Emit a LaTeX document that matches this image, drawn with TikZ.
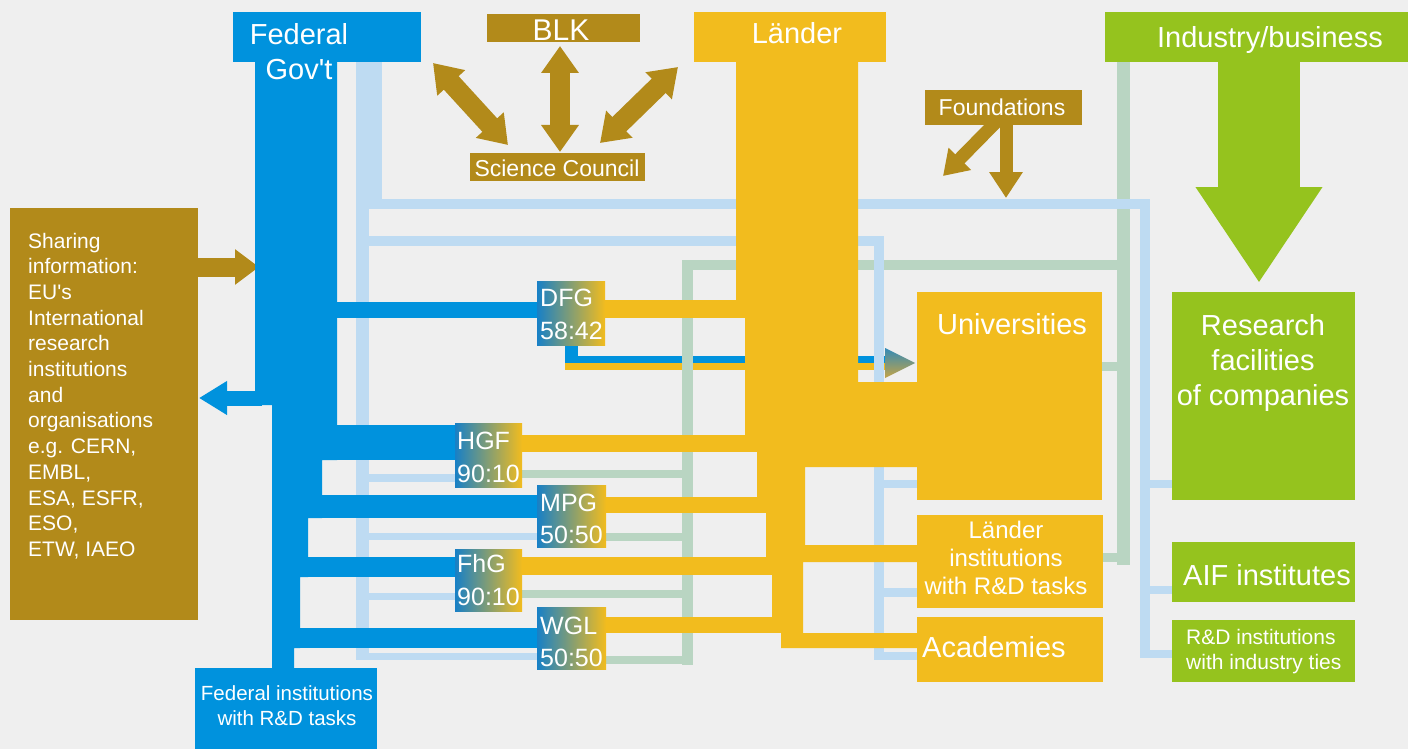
\documentclass[tikz,border=0pt]{standalone}
\usepackage{fontspec}
\setmainfont{Liberation Sans}
\usetikzlibrary{arrows.meta}
\definecolor{bg}{RGB}{239,239,239}
\definecolor{fedblue}{RGB}{0,146,221}
\definecolor{boxblue}{RGB}{24,128,198}
\definecolor{goldbrown}{RGB}{178,138,26}
\definecolor{landyellow}{RGB}{242,188,30}
\definecolor{indgreen}{RGB}{149,195,30}
\definecolor{lblue}{RGB}{190,219,242}
\definecolor{lgreen}{RGB}{185,213,194}
\newcommand\fsz[1]{\fontsize{#1pt}{#1pt}\selectfont}
\begin{document}
\begin{tikzpicture}[x=1pt,y=-1pt,
  box/.style={anchor=north west, inner sep=0pt, outer sep=0pt, draw=none},
  lab/.style={anchor=base, text=white, inner sep=0pt},
  labw/.style={anchor=base west, text=white, inner sep=0pt},
  inst/.style={box, left color=boxblue, right color=landyellow},
  brarrow/.style={draw=goldbrown, line width=#1},
]
\fill[bg] (0,0) rectangle (1408,749);
\useasboundingbox (0,0) rectangle (1408,749);

% DFG -> Universities arrow
\fill[fedblue] (565,345) rectangle (578,363);
\fill[fedblue] (565,356) rectangle (887,363);
\fill[landyellow] (565,363) rectangle (887,370);
\shade[top color=fedblue!60!gray, bottom color=landyellow!60!gray] (885,348) -- (915,363) -- (885,378) -- cycle;

% light green (industry) lines
\fill[lgreen] (1117,62) rectangle (1130,565);
\fill[lgreen] (682,260) rectangle (1130,270);
\fill[lgreen] (682,260) rectangle (693,665);
\fill[lgreen] (520,470) rectangle (693,478);
\fill[lgreen] (605,533) rectangle (693,541);
\fill[lgreen] (520,590) rectangle (693,598);
\fill[lgreen] (605,656) rectangle (693,664);
\fill[lgreen] (1102,362) rectangle (1130,371);
\fill[lgreen] (1103,553) rectangle (1130,562);

% light blue (federal) lines
\fill[lblue] (356,62) rectangle (369,660);
\fill[lblue] (369,62) rectangle (382,209);
\fill[lblue] (369,199) rectangle (1150,209);
\fill[lblue] (1140,199) rectangle (1150,658);
\fill[lblue] (1140,480) rectangle (1172,488);
\fill[lblue] (1140,586) rectangle (1172,594);
\fill[lblue] (1140,650) rectangle (1172,658);
\fill[lblue] (356,236) rectangle (884,246);
\fill[lblue] (874,236) rectangle (884,660);
\fill[lblue] (874,480) rectangle (917,488);
\fill[lblue] (874,588) rectangle (917,597);
\fill[lblue] (874,652) rectangle (917,660);
\fill[lblue] (356,474) rectangle (455,482);
\fill[lblue] (356,533) rectangle (537,540);
\fill[lblue] (356,593) rectangle (455,600);
\fill[lblue] (356,653) rectangle (537,660);

% arrows between Sharing box and Federal trunk
\draw[brarrow=19pt, -{Triangle[length=24pt,width=34pt]}] (198,267) -- (259,267);

% Federal trunk and branches
\fill[fedblue] (255,62) -- (337,62) -- (337,460) -- (322,460) -- (322,518) -- (308,518) -- (308,577) -- (300,577) -- (300,648) -- (294,648) -- (294,668) -- (272,668) -- (272,405) -- (255,405) -- cycle;
\fill[fedblue] (337,302) rectangle (540,318);
\fill[fedblue] (337,425) rectangle (458,460);
\fill[fedblue] (322,495) rectangle (540,518);
\fill[fedblue] (308,557) rectangle (458,577);
\fill[fedblue] (300,628) rectangle (540,648);
\draw[draw=fedblue, line width=15pt, -{Triangle[length=28pt,width=32pt]}] (262,398) -- (199,398);

% Laender trunk and branches
\fill[landyellow] (736,62) -- (858,62) -- (858,382) -- (917,382) -- (917,467) -- (805,467) -- (805,545) -- (917,545) -- (917,562) -- (803,562) -- (803,633) -- (917,633) -- (917,648) -- (781,648) -- (781,617) -- (772,617) -- (772,557) -- (766,557) -- (766,497) -- (757,497) -- (757,435) -- (745,435) -- (745,317) -- (736,317) -- cycle;
\fill[landyellow] (600,300) rectangle (745,318);
\fill[landyellow] (518,435) rectangle (757,452);
\fill[landyellow] (603,497) rectangle (766,513);
\fill[landyellow] (518,557) rectangle (772,575);
\fill[landyellow] (603,617) rectangle (781,633);

% industry arrow
\draw[draw=indgreen, line width=82pt, -{Triangle[length=96pt,width=120pt]}] (1259,62) -- (1259,283);

% brown arrows
\draw[brarrow=20pt, {Triangle[length=27pt,width=36pt]}-{Triangle[length=27pt,width=36pt]}] (560,46) -- (560,152);
\draw[brarrow=20pt, {Triangle[length=27pt,width=36pt]}-{Triangle[length=27pt,width=36pt]}] (433,63) -- (508,145);
\draw[brarrow=20pt, {Triangle[length=27pt,width=36pt]}-{Triangle[length=27pt,width=36pt]}] (678,67) -- (600,143);
\draw[brarrow=13pt, -{Triangle[length=24pt,width=30pt]}] (1000,118) -- (943,176);
\draw[brarrow=13pt, -{Triangle[length=26pt,width=32pt]}] (1006,118) -- (1006,198);

% boxes
\node[box, fill=fedblue, minimum width=188pt, minimum height=50pt] (fedbar) at (233,12) {};
\node[box, fill=fedblue, minimum width=182pt, minimum height=81pt] (fedinst) at (195,668) {};
\node[box, fill=goldbrown, minimum width=188pt, minimum height=412pt] (sharing) at (10,208) {};
\node[box, fill=goldbrown, minimum width=153pt, minimum height=28pt] (blk) at (487,14) {};
\node[box, fill=goldbrown, minimum width=175pt, minimum height=28pt] (sci) at (470,153) {};
\node[box, fill=goldbrown, minimum width=157pt, minimum height=35pt] (found) at (925,90) {};
\node[box, fill=landyellow, minimum width=192pt, minimum height=50pt] (lbar) at (694,12) {};
\node[box, fill=landyellow, minimum width=185pt, minimum height=208pt] (univ) at (917,292) {};
\node[box, fill=landyellow, minimum width=186pt, minimum height=93pt] (linst) at (917,515) {};
\node[box, fill=landyellow, minimum width=186pt, minimum height=65pt] (acad) at (917,617) {};
\node[box, fill=indgreen, minimum width=303pt, minimum height=50pt] (ibar) at (1105,12) {};
\node[box, fill=indgreen, minimum width=183pt, minimum height=208pt] (resf) at (1172,292) {};
\node[box, fill=indgreen, minimum width=183pt, minimum height=60pt] (aif) at (1172,542) {};
\node[box, fill=indgreen, minimum width=183pt, minimum height=62pt] (rdi) at (1172,620) {};
\node[inst, minimum width=68pt, minimum height=64pt] (dfg) at (537,281) {};
\node[inst, minimum width=67pt, minimum height=64pt] (hgf) at (455,423) {};
\node[inst, minimum width=69pt, minimum height=62pt] (mpg) at (537,485) {};
\node[inst, minimum width=67pt, minimum height=62pt] (fhg) at (455,549) {};
\node[inst, minimum width=69pt, minimum height=62pt] (wgl) at (537,607) {};

% texts
\node[lab, font=\fsz{29}] (t1) at (299,45) {Federal};
\node[lab, font=\fsz{29}] (t2) at (299,80) {Gov\textquotesingle t};
\node[lab, font=\fsz{30}] (t3) at (561,41) {BLK};
\node[lab, font=\fsz{23}] (t4) at (557,176) {Science Council};
\node[lab, font=\fsz{29}] (t5) at (797,44) {Länder};
\node[lab, font=\fsz{23}] (t6) at (1002,116) {Foundations};
\node[lab, font=\fsz{29}] (t7) at (1270,48) {Industry/business};
\node[lab, font=\fsz{29}] (t8) at (1012,334) {Universities};
\node[lab, font=\fsz{29}] (t9) at (1263,335) {Research};
\node[lab, font=\fsz{29}] (t10) at (1263,370) {facilities};
\node[lab, font=\fsz{29}] (t11) at (1263,405) {of companies};
\node[lab, font=\fsz{29}] (t12) at (1267,585) {AIF institutes};
\node[labw, font=\fsz{21}] (t13) at (1186,644) {R\&D institutions};
\node[labw, font=\fsz{21}] (t14) at (1186,669) {with industry ties};
\node[lab, font=\fsz{24}] (t15) at (1006,538) {Länder};
\node[lab, font=\fsz{24}] (t16) at (1006,566) {institutions};
\node[lab, font=\fsz{24}] (t17) at (1006,594) {with R\&D tasks};
\node[labw, font=\fsz{29}] (t18) at (922,657) {Academies};
\node[lab, font=\fsz{20.5}] (t19) at (287,700) {Federal institutions};
\node[lab, font=\fsz{20.5}] (t20) at (287,725) {with R\&D tasks};
\foreach \t [count=\i] in {Sharing, information:, EU\textquotesingle s, International, research, institutions, and, organisations, {e.g. CERN,}, {EMBL,}, {ESA, ESFR,}, {ESO,}, {ETW, IAEO}}
  \node[labw, font=\fsz{21}] (sh\i) at (28,{248+25.7*(\i-1)}) {\t};
\node[labw, font=\fsz{25}] (d1) at (540,306) {DFG};
\node[labw, font=\fsz{25}] (d2) at (540,339) {58:42};
\node[labw, font=\fsz{25}] (h1) at (457,449) {HGF};
\node[labw, font=\fsz{25}] (h2) at (457,482) {90:10};
\node[labw, font=\fsz{25}] (m1) at (540,511) {MPG};
\node[labw, font=\fsz{25}] (m2) at (540,543) {50:50};
\node[labw, font=\fsz{25}] (f1) at (457,572) {FhG};
\node[labw, font=\fsz{25}] (f2) at (457,605) {90:10};
\node[labw, font=\fsz{25}] (w1) at (540,634) {WGL};
\node[labw, font=\fsz{25}] (w2) at (540,666) {50:50};
\end{tikzpicture}
\end{document}
